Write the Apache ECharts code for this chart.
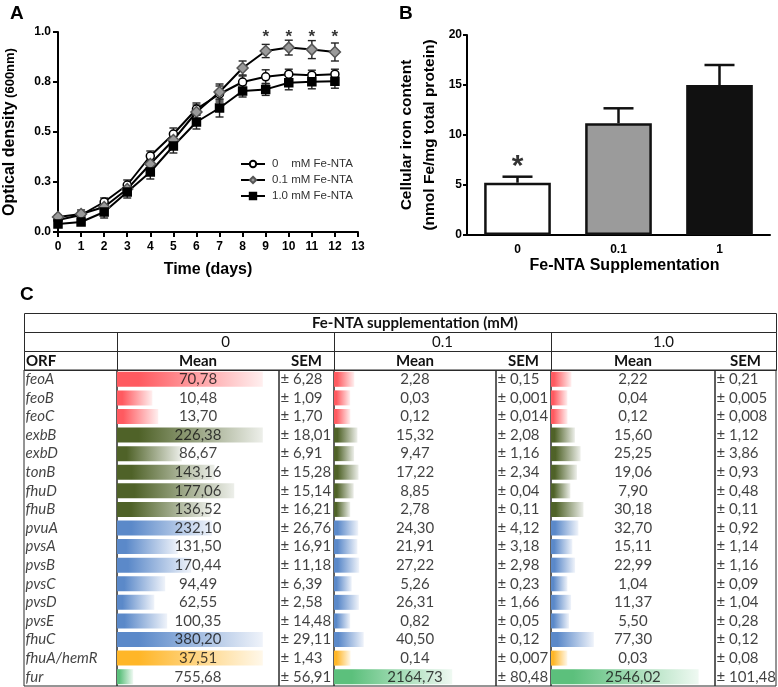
<!DOCTYPE html>
<html><head><meta charset="utf-8">
<script src="https://cdn.jsdelivr.net/npm/echarts@6/dist/echarts.min.js"></script>
<style>html,body{margin:0;padding:0;background:#fff}#c{width:778px;height:687px}</style>
</head><body><div id="c"></div>
<script>
// ---------- Panel A: growth curves ----------
const days = [0,1,2,3,4,5,6,7,8,9,10,11,12];
const odTickLabels = ['0.0','0.3','0.5','0.8','1.0'];
const od0  = [0.060,0.085,0.150,0.235,0.380,0.490,0.615,0.690,0.750,0.776,0.789,0.784,0.789];
const od01 = [0.075,0.090,0.125,0.215,0.340,0.460,0.600,0.700,0.820,0.905,0.922,0.912,0.900];
const od1  = [0.040,0.050,0.100,0.200,0.300,0.430,0.550,0.620,0.705,0.713,0.746,0.751,0.754];
const odSem0  = [0.010,0.015,0.020,0.025,0.025,0.030,0.030,0.040,0.030,0.035,0.025,0.025,0.025];
const odSem01 = [0.010,0.020,0.020,0.020,0.030,0.035,0.035,0.040,0.035,0.033,0.037,0.045,0.045];
const odSem1  = [0.010,0.012,0.030,0.030,0.035,0.035,0.035,0.045,0.030,0.030,0.035,0.035,0.035];
const starDays = [9,10,11,12];
const starLevelA = 0.973;
const seriesNamesA = ['0    mM Fe-NTA','0.1 mM Fe-NTA','1.0 mM Fe-NTA'];

// ---------- Panel B: iron content ----------
const ironCats = ['0','0.1','1'];
const ironMean = [5.23, 11.17, 15.0];
const ironSem  = [0.60, 1.50, 2.0];
const ironStarLevel = 6.8;

// ---------- Panel C: table ----------
const genes = ['feoA','feoB','feoC','exbB','exbD','tonB','fhuD','fhuB','pvuA','pvsA','pvsB','pvsC','pvsD','pvsE','fhuC','fhuA/hemR','fur'];
const geneGroup = ['feo','feo','feo','exb','exb','exb','exb','exb','pvu','pvu','pvu','pvu','pvu','pvu','pvu','fhuA','fur'];
const mean0  = [70.78,10.48,13.70,226.38,86.67,143.16,177.06,136.52,232.10,131.50,170.44,94.49,62.55,100.35,380.20,37.51,755.68];
const sem0   = [6.28,1.09,1.70,18.01,6.91,15.28,15.14,16.21,26.76,16.91,11.18,6.39,2.58,14.48,29.11,1.43,56.91];
const mean01 = [2.28,0.03,0.12,15.32,9.47,17.22,8.85,2.78,24.30,21.91,27.22,5.26,26.31,0.82,40.50,0.14,2164.73];
const sem01  = [0.15,0.001,0.014,2.08,1.16,2.34,0.04,0.11,4.12,3.18,2.98,0.23,1.66,0.05,0.12,0.007,80.48];
const mean1  = [2.22,0.04,0.12,15.60,25.25,19.06,7.90,30.18,32.70,15.11,22.99,1.04,11.37,5.50,77.30,0.03,2546.02];
const sem1   = [0.21,0.005,0.008,1.12,3.86,0.93,0.48,0.11,0.92,1.14,1.16,0.09,1.04,0.28,0.12,0.08,101.48];
const concLabels = ['0','0.1','1.0'];
const groupColors = {feo:'#ff5a60', exb:'#4f6228', pvu:'#5b89c9', fhuA:'#ffb628', fur:'#5cc07c'};

// ---------- layout ----------
const colEdges = [24,117,279,334,496,551,715,776];
const rowTops = [313,332,351,370];
const tableBottom = 686;
const tFont = 'Lato';
const aFont = 'Liberation Sans';
const tSize = 15;

function fmt(v){ let s=v.toFixed(2); if(Math.abs(parseFloat(s)-v)>1e-9) s=v.toFixed(3); return s.replace('.',','); }
const allMeans = [mean0, mean01, mean1];
function barFrac(v, g){
  let vals=[];
  genes.forEach((_,i)=>{ if(geneGroup[i]===g) allMeans.forEach(m=>vals.push(m[i])); });
  const mn=Math.min(...vals), mx=Math.max(...vals);
  return 0.1 + 0.8*(v-mn)/(mx-mn);
}
function mixWhite(hex, t){
  const n=parseInt(hex.slice(1),16); const r=n>>16,g=(n>>8)&255,b=n&255;
  const f=c=>Math.round(c+(255-c)*t);
  return 'rgb('+f(r)+','+f(g)+','+f(b)+')';
}
function grad(c){
  return new echarts.graphic.LinearGradient(0,0,1,0,[{offset:0,color:c},{offset:0.15,color:c},{offset:1,color:mixWhite(c,0.9)}]);
}

const chart = echarts.init(document.getElementById('c'));

const grids = [
  {left:58, top:32, width:300, height:200, outerBoundsMode:'none'},
  {left:467, top:35, width:303, height:200, outerBoundsMode:'none'}
];
const xAxes = [], yAxes = [], series = [];
const axisLineS = {show:true, lineStyle:{color:'#000', width:2}};

// Panel A axes
xAxes.push({gridIndex:0, type:'value', min:0, max:13, interval:1,
  axisLine:axisLineS, axisTick:{show:true, length:5, lineStyle:{width:2,color:'#000'}},
  splitLine:{show:false},
  axisLabel:{color:'#000', fontFamily:aFont, fontWeight:'bold', fontSize:12, margin:9},
  name:'Time (days)', nameLocation:'middle', nameGap:30,
  nameTextStyle:{color:'#000', fontFamily:aFont, fontWeight:'bold', fontSize:16}});
yAxes.push({gridIndex:0, type:'value', min:0, max:1, interval:0.25,
  axisLine:axisLineS, axisTick:{show:true, length:5, lineStyle:{width:2,color:'#000'}},
  splitLine:{show:false},
  axisLabel:{color:'#000', fontFamily:aFont, fontWeight:'bold', fontSize:12, margin:7,
    formatter:(v,i)=>odTickLabels[i]},
  name:'{a|Optical density} {b|(600nm)}', nameLocation:'middle', nameGap:40, nameRotate:90,
  nameTextStyle:{color:'#000', fontFamily:aFont, rich:{
    a:{fontSize:16, fontWeight:'bold', fontFamily:aFont, color:'#000'},
    b:{fontSize:13, fontWeight:'bold', fontFamily:aFont, color:'#000'}}}});

// Panel B axes
xAxes.push({gridIndex:1, type:'category', data:ironCats,
  axisLine:axisLineS, axisTick:{show:false},
  axisLabel:{color:'#000', fontFamily:aFont, fontWeight:'bold', fontSize:12, margin:9},
  name:'Fe-NTA Supplementation', nameLocation:'middle', nameGap:23,
  nameTextStyle:{color:'#000', fontFamily:aFont, fontWeight:'bold', fontSize:16, padding:[0,0,0,12]}});
yAxes.push({gridIndex:1, type:'value', min:0, max:20, interval:5,
  axisLine:axisLineS, axisTick:{show:true, length:4, lineStyle:{width:2,color:'#000'}},
  splitLine:{show:false},
  axisLabel:{color:'#000', fontFamily:aFont, fontWeight:'bold', fontSize:12, margin:5},
  name:'Cellular iron content\n(nmol Fe/mg total protein)', nameLocation:'middle', nameGap:26, nameRotate:90,
  nameTextStyle:{color:'#000', fontFamily:aFont, fontWeight:'bold', fontSize:15.5, lineHeight:23}});

// Panel A series
const odSets = [
  {d:od0, e:odSem0, sym:'circle', size:8, fill:'#fff', border:'#000'},
  {d:od01, e:odSem01, sym:'diamond', size:11, fill:'#9a9a9a', border:'#555'},
  {d:od1, e:odSem1, sym:'rect', size:8, fill:'#000', border:'#000'}
];
odSets.forEach((s,k)=>{
  series.push({type:'custom', xAxisIndex:0, yAxisIndex:0, z:1, silent:true,
    data: days.map((d,i)=>[d, s.d[i], s.e[i]]),
    renderItem:(p,api)=>{
      const x=api.value(0), y=api.value(1), e=api.value(2);
      const t=api.coord([x,y+e]), b=api.coord([x,y-e]); const w=4;
      const st={stroke:'#222', lineWidth:1.4};
      return {type:'group', children:[
        {type:'line', shape:{x1:t[0],y1:t[1],x2:b[0],y2:b[1]}, style:st},
        {type:'line', shape:{x1:t[0]-w,y1:t[1],x2:t[0]+w,y2:t[1]}, style:st},
        {type:'line', shape:{x1:b[0]-w,y1:b[1],x2:b[0]+w,y2:b[1]}, style:st}]};
    }});
});
odSets.forEach((s,k)=>{
  series.push({type:'line', name:seriesNamesA[k], xAxisIndex:0, yAxisIndex:0, z:3,
    data: days.map((d,i)=>[d, s.d[i]]),
    symbol:s.sym, symbolSize:s.size, showAllSymbol:true,
    itemStyle:{color:s.fill, borderColor:s.border, borderWidth:1.5},
    lineStyle:{color:'#000', width:2}});
});
series.push({type:'scatter', xAxisIndex:0, yAxisIndex:0, silent:true, symbolSize:1,
  itemStyle:{color:'rgba(0,0,0,0)'},
  data: starDays.map(d=>[d, starLevelA]),
  label:{show:true, position:'inside', formatter:'*', fontSize:17, fontWeight:'bold', fontFamily:aFont, color:'#000'}});

// Panel B series
const barFills = ['#ffffff','#9b9b9b','#111111'];
series.push({type:'bar', xAxisIndex:1, yAxisIndex:1, barWidth:'66%', z:2,
  data: ironMean.map((v,i)=>({value:v, itemStyle:{color:barFills[i], borderColor:'#111', borderWidth:2.5}}))});
series.push({type:'custom', xAxisIndex:1, yAxisIndex:1, z:1, silent:true,
  data: ironMean.map((v,i)=>[i, v, ironSem[i]]),
  renderItem:(p,api)=>{
    const x=api.value(0), y=api.value(1), e=api.value(2);
    const t=api.coord([x,y+e]), b=api.coord([x,y]); const w=15;
    const st={stroke:'#111', lineWidth:2.5};
    return {type:'group', children:[
      {type:'line', shape:{x1:t[0],y1:t[1],x2:b[0],y2:b[1]}, style:st},
      {type:'line', shape:{x1:t[0]-w,y1:t[1],x2:t[0]+w,y2:t[1]}, style:st}]};
  }});
series.push({type:'scatter', xAxisIndex:1, yAxisIndex:1, silent:true, symbolSize:1,
  itemStyle:{color:'rgba(0,0,0,0)'},
  data: [[0, ironStarLevel]],
  label:{show:true, position:'inside', formatter:'*', fontSize:30, fontWeight:'bold', fontFamily:aFont, color:'#000'}});

// Panel C table columns
const tableCols = [
  {kind:'orf'},
  {kind:'mean', data:mean0}, {kind:'sem', data:sem0},
  {kind:'mean', data:mean01}, {kind:'sem', data:sem01},
  {kind:'mean', data:mean1}, {kind:'sem', data:sem1}
];
const txt = {color:'#111', fontFamily:tFont, fontSize:tSize};
tableCols.forEach((c,k)=>{
  const gi = grids.length;
  grids.push({left:colEdges[k], top:rowTops[3], width:colEdges[k+1]-colEdges[k], height:tableBottom-rowTops[3],
    show:true, borderColor:'#2a2a2a', borderWidth:1, backgroundColor:'transparent', outerBoundsMode:'none'});
  xAxes.push({gridIndex:gi, type:'value', min:0, max:1, show:false});
  yAxes.push({gridIndex:gi, type:'category', data:genes, inverse:true, show:false});
  if(c.kind==='orf'){
    series.push({type:'scatter', xAxisIndex:gi, yAxisIndex:gi, silent:true, symbolSize:1, itemStyle:{color:'rgba(0,0,0,0)'},
      data: genes.map(g=>[0,g]),
      label:{show:true, position:'right', distance:1, formatter:p=>p.value[1], ...txt, fontStyle:'italic'}});
  } else if(c.kind==='mean'){
    series.push({type:'bar', xAxisIndex:gi, yAxisIndex:gi, silent:true, barWidth:15, z:1,
      data: c.data.map((v,i)=>({value:barFrac(v, geneGroup[i]), itemStyle:{color:grad(groupColors[geneGroup[i]])}}))});
    series.push({type:'scatter', xAxisIndex:gi, yAxisIndex:gi, silent:true, symbolSize:1, z:3, itemStyle:{color:'rgba(0,0,0,0)'},
      data: c.data.map((v,i)=>[0.5, genes[i], v]),
      label:{show:true, position:'inside', formatter:p=>fmt(p.value[2]), ...txt}});
  } else {
    series.push({type:'scatter', xAxisIndex:gi, yAxisIndex:gi, silent:true, symbolSize:1, itemStyle:{color:'rgba(0,0,0,0)'},
      data: c.data.map((v,i)=>[0, genes[i], v]),
      label:{show:true, position:'right', distance:1, formatter:p=>'± '+fmt(p.value[2]), ...txt}});
  }
});

// header structure
const graphic = [];
const lineStroke = {fill:'none', stroke:'#2a2a2a', lineWidth:1};
function cellRect(x0,x1,y0,y1){ graphic.push({type:'rect', shape:{x:x0+0.5,y:y0+0.5,width:x1-x0,height:y1-y0}, style:lineStroke, z:10}); }
function cellText(t,x,y,align,bold,size){ graphic.push({type:'text', x:x, y:y, style:{text:t, fill:'#111', font:(bold?'bold ':'')+(size||tSize)+'px '+tFont, textAlign:align, textVerticalAlign:'middle'}, z:11}); }
const left = colEdges[0], right = colEdges[colEdges.length-1];
cellRect(left, right, rowTops[0], rowTops[1]);
cellText('Fe-NTA supplementation (mM)', 415, (rowTops[0]+rowTops[1])/2+1, 'center', true, 15);
const groupEdges = [[colEdges[0],colEdges[1]],[colEdges[1],colEdges[3]],[colEdges[3],colEdges[5]],[colEdges[5],colEdges[7]]];
groupEdges.forEach((g,k)=>{
  cellRect(g[0], g[1], rowTops[1], rowTops[2]);
  cellRect(g[0], g[1], rowTops[2], rowTops[3]);
  if(k>0) cellText(concLabels[k-1], (g[0]+g[1])/2, (rowTops[1]+rowTops[2])/2+1, 'center', false, tSize);
});
cellText('ORF', colEdges[0]+2, (rowTops[2]+rowTops[3])/2+1, 'left', true, tSize);
[1,3,5].forEach(k=>{
  cellText('Mean', (colEdges[k]+colEdges[k+1])/2, (rowTops[2]+rowTops[3])/2+1, 'center', true, tSize);
  cellText('SEM', (colEdges[k+1]+colEdges[k+2])/2, (rowTops[2]+rowTops[3])/2+1, 'center', true, tSize);
});
// panel letters
graphic.push({type:'text', x:10, y:4, style:{text:'A', font:'bold 19px '+aFont, fill:'#000'}});
graphic.push({type:'text', x:399, y:4, style:{text:'B', font:'bold 19px '+aFont, fill:'#000'}});
graphic.push({type:'text', x:20, y:285, style:{text:'C', font:'bold 19px '+aFont, fill:'#000'}});

chart.setOption({
  animation:false,
  backgroundColor:'#fff',
  grid:grids, xAxis:xAxes, yAxis:yAxes, series:series, graphic:graphic,
  legend:{data:seriesNamesA, orient:'vertical', left:235, top:153, itemWidth:24, itemHeight:8, itemGap:4,
    textStyle:{color:'#333', fontFamily:aFont, fontSize:11.5, padding:[0,0,0,2]}, selectedMode:false}
});
</script></body></html>
